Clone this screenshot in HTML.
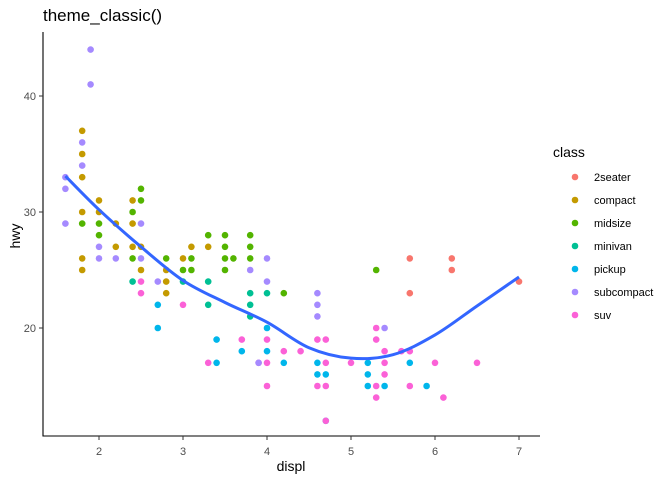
<!DOCTYPE html>
<html><head><meta charset="utf-8"><style>
body{margin:0;background:#fff}
svg text{font-family:"Liberation Sans",Arial,sans-serif}
</style></head><body>
<svg id="chart" width="672" height="480" xmlns="http://www.w3.org/2000/svg">
<text x="43" y="21" font-size="17" fill="#000">theme_classic()</text>
<g id="pts"></g>
<path id="smooth" fill="none" stroke="#3366FF" stroke-width="3"/>
<line x1="43" y1="32" x2="43" y2="436.5" stroke="#000" stroke-width="1.1"/>
<line x1="42.5" y1="436" x2="540" y2="436" stroke="#000" stroke-width="1.1"/>
<g id="xt"></g>
<g id="yt"></g>
<text x="291" y="471" font-size="14" text-anchor="middle">displ</text>
<text transform="translate(20,236) rotate(-90)" font-size="14" text-anchor="middle">hwy</text>
<text x="553" y="157" font-size="14">class</text>
<g id="leg"></g>
</svg>
<script>
const classes=["2seater","compact","midsize","minivan","pickup","subcompact","suv"];
const colors=["#F8766D","#C49A00","#53B400","#00C094","#00B6EB","#A58AFF","#FB61D7"];
const xTicks=[2,3,4,5,6,7];
const yTicks=[20,30,40];
// [displ, hwy, classIndex]
const points=[
[1.9,44,5],[1.9,41,5],[1.8,37,1],[1.8,36,5],[1.8,35,1],[1.8,34,5],[1.8,33,1],[1.6,33,5],[1.6,32,5],
[2.0,31,1],[2.5,32,2],[2.5,31,2],[2.4,31,1],[1.8,30,1],[2.0,30,1],[2.4,30,2],
[1.6,29,5],[1.8,29,2],[2.0,29,2],[2.2,29,1],[2.4,29,1],[2.5,29,5],
[2.0,28,2],[3.3,28,2],[3.5,28,2],[3.8,28,2],
[2.0,27,5],[2.2,27,1],[2.4,27,1],[2.5,27,1],[3.1,27,1],[3.3,27,1],[3.5,27,2],[3.8,27,2],
[1.8,26,1],[2.0,26,5],[2.2,26,5],[2.4,26,2],[2.5,26,5],[2.8,26,2],[3.0,26,1],[3.1,26,2],[3.5,26,2],[3.6,26,2],[3.8,26,2],[4.0,26,5],[5.7,26,0],[6.2,26,0],
[1.8,25,1],[2.5,25,1],[2.8,25,1],[3.0,25,2],[3.1,25,2],[3.5,25,2],[3.8,25,5],[5.3,25,2],[6.2,25,0],
[2.4,24,3],[2.5,24,6],[2.7,24,5],[2.8,24,1],[3.0,24,3],[3.3,24,3],[4.0,24,5],[7.0,24,0],
[2.5,23,6],[2.8,23,1],[3.8,23,3],[4.0,23,3],[4.2,23,2],[4.6,23,5],[5.7,23,0],
[2.7,22,4],[3.0,22,6],[3.3,22,3],[3.8,22,3],[4.6,22,5],
[3.8,21,3],[4.6,21,5],
[2.7,20,4],[4.0,20,4],[5.3,20,6],[5.4,20,5],
[3.4,19,4],[3.7,19,6],[4.0,19,6],[4.6,19,6],[4.7,19,6],[5.3,19,6],
[3.7,18,4],[4.0,18,4],[4.2,18,6],[4.4,18,6],[5.4,18,6],[5.6,18,6],[5.7,18,6],
[3.3,17,6],[3.4,17,4],[3.9,17,6],[3.9,17,5],[4.0,17,6],[4.2,17,4],[4.6,17,4],[4.7,17,6],[5.0,17,6],[5.2,17,4],[5.4,17,6],[5.7,17,4],[6.0,17,6],[6.5,17,6],
[4.6,16,4],[4.7,16,4],[5.2,16,4],[5.4,16,6],
[4.0,15,6],[4.6,15,6],[4.7,15,6],[5.2,15,4],[5.3,15,6],[5.4,15,4],[5.7,15,6],[5.9,15,4],
[5.3,14,6],[6.1,14,6],
[4.7,12,4],[4.7,12,6]
];
const smoothX=[1.6,2.0,2.5,3.0,3.5,4.0,4.5,5.0,5.5,6.0,6.5,7.0];
const smoothY=[33.1,30.2,27.0,24.1,22.2,20.5,18.3,17.4,17.7,19.4,21.9,24.4];

const sx=d=>99+(d-2)*84;
const sy=h=>328-(h-20)*11.6;
const NS="http://www.w3.org/2000/svg";
const mk=(t,a,p)=>{const e=document.createElementNS(NS,t);for(const k in a)e.setAttribute(k,a[k]);p.appendChild(e);return e;};
const pg=document.getElementById('pts');
points.forEach(p=>{
  const c=mk('circle',{cx:sx(p[0]),cy:sy(p[1]),r:3.3,fill:colors[p[2]]},pg);
  
  
});
document.getElementById('smooth').setAttribute('d',(()=>{
  const P=smoothX.map((x,i)=>[sx(x),sy(smoothY[i])]);
  let d='M'+P[0][0]+','+P[0][1];
  for(let i=0;i<P.length-1;i++){
    const p0=P[Math.max(0,i-1)],p1=P[i],p2=P[i+1],p3=P[Math.min(P.length-1,i+2)];
    const c1=[p1[0]+(p2[0]-p0[0])/6,p1[1]+(p2[1]-p0[1])/6];
    const c2=[p2[0]-(p3[0]-p1[0])/6,p2[1]-(p3[1]-p1[1])/6];
    d+=' C'+c1+' '+c2+' '+p2;
  }
  return d;})());
const xt=document.getElementById('xt');
xTicks.forEach(v=>{
  const l=mk('line',{x1:sx(v),x2:sx(v),y1:436,y2:440,stroke:'#333'},xt);
  
  
  const t=mk('text',{x:sx(v),y:455,'font-size':11,fill:'#4d4d4d','text-anchor':'middle'},xt);
  
  
  t.textContent=v;
});
const yt=document.getElementById('yt');
yTicks.forEach(v=>{
  const l=mk('line',{x1:39,x2:43,y1:sy(v),y2:sy(v),stroke:'#333'},yt);
  
  
  const t=mk('text',{x:36,y:sy(v)+4,'font-size':11,fill:'#4d4d4d','text-anchor':'end'},yt);
  
  
  t.textContent=v;
});
const lg=document.getElementById('leg');
classes.forEach((c,i)=>{
  const y=177+i*23;
  const g=mk('g',{},lg);
  
  
  mk('circle',{cx:575,cy:y,r:3.3,fill:colors[i]},g);
  const t=mk('text',{x:594,y:y+4,'font-size':11,fill:'#000'},g);
  t.textContent=c;
});
</script>
</body></html>
